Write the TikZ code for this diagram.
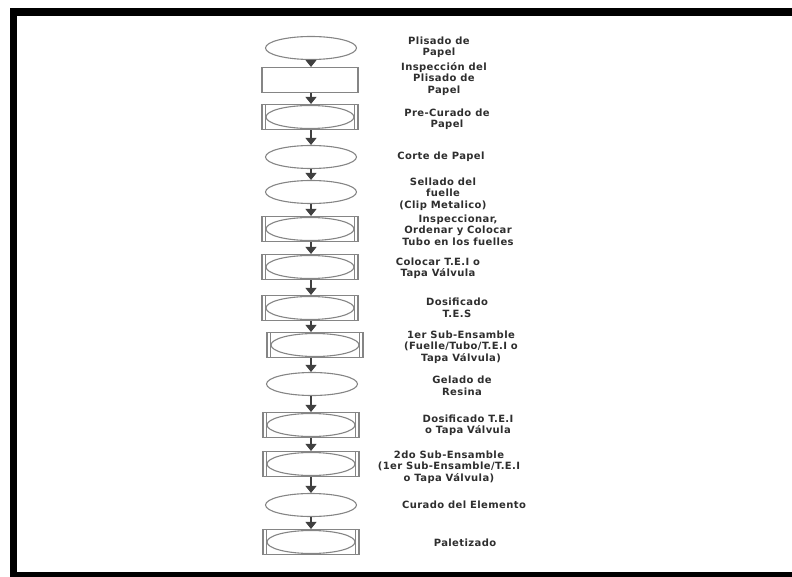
\documentclass[tikz,border=0pt]{standalone}
\usepackage{fontspec}
\setmainfont{DejaVu Sans}[LetterSpace=4]
\usetikzlibrary{shapes.geometric,arrows.meta}
\definecolor{shapegray}{HTML}{858585}
\definecolor{arrowgray}{HTML}{404040}
\definecolor{textgray}{HTML}{2E2E2E}
\tikzset{
  ovalbox/.style={ellipse, draw=shapegray, line width=1.1pt, minimum width=91pt, minimum height=23pt, inner sep=0pt},
  rectbox/.style={rectangle, draw=shapegray, line width=1.1pt, minimum width=96pt, minimum height=25pt, inner sep=0pt,
    path picture={
      \draw[shapegray, line width=0.7pt] ([xshift=3.5pt]path picture bounding box.north west) -- ([xshift=3.5pt]path picture bounding box.south west);
      \draw[shapegray, line width=0.7pt] ([xshift=-3.5pt]path picture bounding box.north east) -- ([xshift=-3.5pt]path picture bounding box.south east);
    }},
  combobox/.style={rectbox,
    append after command={(\tikzlastnode.center) node[ovalbox, minimum width=88pt, minimum height=23pt] {}}},
  lab/.style={align=center, text=textgray, font=\bfseries\fontsize{10}{11.5}\selectfont, inner sep=0pt},
  flow/.style={draw=arrowgray, line width=1.1pt, -{Triangle[length=7pt,width=11pt]}}
}
\begin{document}
\begin{tikzpicture}[x=1pt,y=-1pt]
\useasboundingbox (0,0) rectangle (792,577);
% frame
\fill[black] (10,8) rectangle (792,16);
\fill[black] (10,8) rectangle (17,577);
\fill[black] (10,572) rectangle (792,577);
% shapes
\node[ovalbox]  (s1)  at (311,48)  {};
\node[rectbox, path picture={}]  (s2)  at (310,80)  {};
\node[combobox] (s3)  at (310,117) {};
\node[ovalbox]  (s4)  at (311,157) {};
\node[ovalbox]  (s5)  at (311,192) {};
\node[combobox] (s6)  at (310,229) {};
\node[combobox] (s7)  at (310,267) {};
\node[combobox] (s8)  at (310,308) {};
\node[combobox] (s9)  at (315,345) {};
\node[ovalbox]  (s10) at (312,384) {};
\node[combobox] (s11) at (311,425) {};
\node[combobox] (s12) at (311,464) {};
\node[ovalbox]  (s13) at (311,505) {};
\node[combobox] (s14) at (311,542) {};
% arrows
\foreach \a/\b in {s1/s2,s2/s3,s3/s4,s4/s5,s5/s6,s6/s7,s7/s8,s8/s9,s9/s10,s10/s11,s11/s12,s12/s13,s13/s14}{
  \draw[flow] (\a.south -| 311,0) -- (\b.north -| 311,0);
}
% labels
\node[lab] (t1)  at (439,47)  {Plisado de\\Papel};
\node[lab] (t2)  at (444,79)  {Inspección del\\Plisado de\\Papel};
\node[lab] (t3)  at (447,119) {Pre-Curado de\\Papel};
\node[lab] (t4)  at (441,157) {Corte de Papel};
\node[lab] (t5)  at (443,194) {Sellado del\\fuelle\\(Clip Metalico)};
\node[lab] (t6)  at (458,230) {Inspeccionar,\\Ordenar y Colocar\\Tubo en los fuelles};
\node[lab] (t7)  at (438,268) {Colocar T.E.I o\\Tapa Válvula};
\node[lab] (t8)  at (457,308) {Dosificado\\T.E.S};
\node[lab] (t9)  at (461,347) {1er Sub-Ensamble\\(Fuelle/Tubo/T.E.I o\\Tapa Válvula)};
\node[lab] (t10) at (462,386) {Gelado de\\Resina};
\node[lab] (t11) at (468,425) {Dosificado T.E.I\\o Tapa Válvula};
\node[lab] (t12) at (449,467) {2do Sub-Ensamble\\(1er Sub-Ensamble/T.E.I\\o Tapa Válvula)};
\node[lab] (t13) at (464,505) {Curado del Elemento};
\node[lab] (t14) at (465,543) {Paletizado};
\end{tikzpicture}
\end{document}
